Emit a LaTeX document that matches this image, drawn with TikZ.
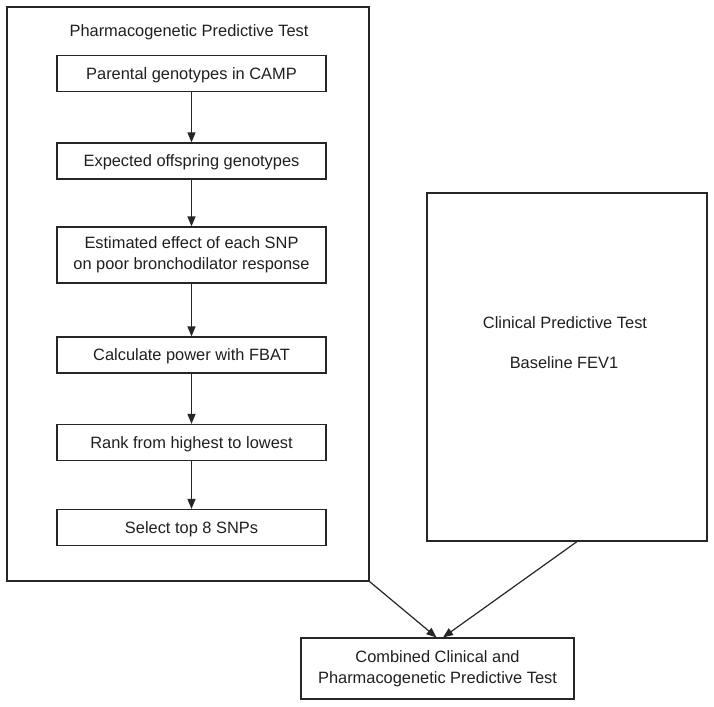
\documentclass[tikz,border=0pt]{standalone}
\usepackage{fontspec}
\setmainfont{Liberation Sans}
\usetikzlibrary{arrows.meta}
\begin{document}
\begin{tikzpicture}[x=1pt,y=-1pt,
  every node/.style={font=\fontsize{16.4}{21}\selectfont, text=black!88, inner sep=0pt},
  frame/.style={draw=black!85, line width=1.2pt, rectangle},
  stepbox/.style={frame, minimum width=269pt, minimum height=36pt, align=center},
  oneline/.style={text height=11.7pt, text depth=0pt},
  conn/.style={draw=black!85, line width=1.2pt, -{Triangle[length=10pt,width=8pt]}}
]
\useasboundingbox (0,0) rectangle (714,706);
% big left frame
\node[frame, minimum width=362pt, minimum height=574pt] (pgt) at (188,294) {};
\node[anchor=base] (ttl) at (189,37) {Pharmacogenetic Predictive Test};
\node[stepbox, oneline] (b1) at (191.5,73.5) {Parental genotypes in CAMP};
\node[stepbox, oneline] (b2) at (191.5,161) {Expected offspring genotypes};
\node[stepbox, minimum height=56pt] (b3) at (191.5,255) {Estimated effect of each SNP\\on poor bronchodilator response};
\node[stepbox, oneline] (b4) at (191.5,355) {Calculate power with FBAT};
\node[stepbox, oneline] (b5) at (191.5,442.5) {Rank from highest to lowest};
\node[stepbox, oneline] (b6) at (191.5,527.5) {Select top 8 SNPs};
\draw[conn] (b1) -- (b2);
\draw[conn] (b2) -- (b3);
\draw[conn] (b3) -- (b4);
\draw[conn] (b4) -- (b5);
\draw[conn] (b5) -- (b6);
% right frame
\node[frame, minimum width=280pt, minimum height=348pt] (cpt) at (567,367) {};
\node[anchor=base] (clin) at (565,328) {Clinical Predictive Test};
\node[anchor=base] (fev) at (564,368) {Baseline FEV1};
% bottom box
\node[frame, minimum width=273pt, minimum height=61pt, align=center] (comb) at (437.5,668.5) {Combined Clinical and\\Pharmacogenetic Predictive Test};
\draw[conn] (pgt.south east) -- ([xshift=-1pt]comb.north);
\draw[conn] ([xshift=10pt]cpt.south) -- ([xshift=5.5pt]comb.north);
\end{tikzpicture}
\end{document}
